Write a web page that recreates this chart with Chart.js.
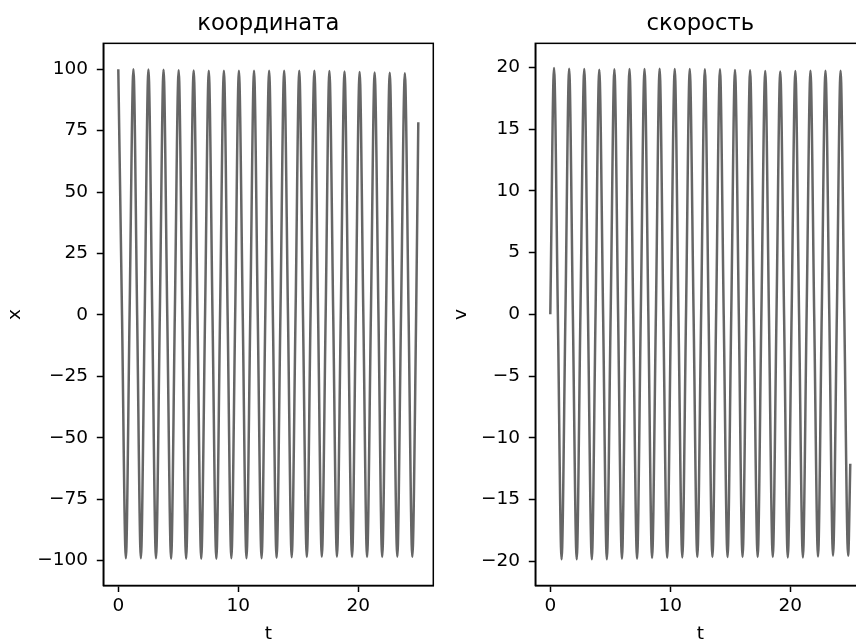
<!DOCTYPE html>
<html>
<head>
<meta charset="utf-8">
<script src="https://cdn.jsdelivr.net/npm/chart.js@4.4.1/dist/chart.umd.min.js"></script>
<style>
  html, body { margin: 0; padding: 0; background: #fff; overflow: hidden; width: 856px; height: 642px; }
  canvas { position: absolute; top: 0; }
  #posChart { left: 0; }
  #velChart { left: 432.4px; }
</style>
</head>
<body>
<canvas id="posChart" width="440" height="642"></canvas>
<canvas id="velChart" width="440" height="642"></canvas>
<script>
// time samples: quarter periods (extrema and zero crossings) + last point
const tValues = [0, 0.31, 0.63, 0.94, 1.26, 1.57, 1.88, 2.2, 2.51, 2.83,
  3.14, 3.46, 3.77, 4.08, 4.4, 4.71, 5.03, 5.34, 5.65, 5.97,
  6.28, 6.6, 6.91, 7.23, 7.54, 7.85, 8.17, 8.48, 8.8, 9.11,
  9.42, 9.74, 10.05, 10.37, 10.68, 11.0, 11.31, 11.62, 11.94, 12.25,
  12.57, 12.88, 13.19, 13.51, 13.82, 14.14, 14.45, 14.77, 15.08, 15.39,
  15.71, 16.02, 16.34, 16.65, 16.96, 17.28, 17.59, 17.91, 18.22, 18.54,
  18.85, 19.16, 19.48, 19.79, 20.11, 20.42, 20.73, 21.05, 21.36, 21.68,
  21.99, 22.31, 22.62, 22.93, 23.25, 23.56, 23.88, 24.19, 24.5, 24.82, 25];

// координата x
const xValues = [100, 0, -99.0, 0, 100, 0, -99.0, 0, 99.9, 0,
  -99.0, 0, 99.8, 0, -99.2, 0, 99.6, 0, -99.2, 0,
  99.4, 0, -99.2, 0, 99.3, 0, -99.2, 0, 99.3, 0,
  -99.0, 0, 99.3, 0, -99.0, 0, 99.3, 0, -99.0, 0,
  99.3, 0, -98.8, 0, 99.3, 0, -98.6, 0, 99.3, 0,
  -98.5, 0, 99.3, 0, -98.4, 0, 99.2, 0, -98.4, 0,
  99.0, 0, -98.5, 0, 98.8, 0, -98.5, 0, 98.6, 0,
  -98.5, 0, 98.5, 0, -98.4, 0, 98.3, 0, -98.4, 0, 78.4];

// скорость v
const vValues = [0, 19.95, 0, -19.85, 0, 19.9, 0, -19.85, 0, 19.87,
  0, -19.85, 0, 19.82, 0, -19.85, 0, 19.85, 0, -19.8,
  0, 19.87, 0, -19.8, 0, 19.87, 0, -19.75, 0, 19.9,
  0, -19.72, 0, 19.87, 0, -19.7, 0, 19.87, 0, -19.66,
  0, 19.85, 0, -19.66, 0, 19.85, 0, -19.66, 0, 19.8,
  0, -19.66, 0, 19.76, 0, -19.66, 0, 19.7, 0, -19.66,
  0, 19.66, 0, -19.7, 0, 19.7, 0, -19.7, 0, 19.73,
  0, -19.63, 0, 19.73, 0, -19.55, 0, 19.73, 0, -19.55, -12.1];

const xTicks = [0, 10, 20];

Chart.defaults.font.family = "'DejaVu Sans', sans-serif";
Chart.defaults.color = '#000';

// matplotlib-style closed frame around the plot area
const framePlugin = {
  id: 'frame',
  afterDraw(chart) {
    const { ctx, chartArea: a } = chart;
    ctx.save();
    ctx.strokeStyle = '#000';
    ctx.lineWidth = 1.5;
    ctx.strokeRect(a.left, a.top, a.right - a.left, a.bottom - a.top);
    ctx.restore();
  }
};

const minus = v => String(v).replace('-', '\u2212');

function makeChart(id, title, yLabel, yValues, yMin, yMax, yStep, yTitlePad) {
  const points = tValues.map((t, i) => ({ x: t, y: yValues[i] }));
  return new Chart(document.getElementById(id), {
    type: 'line',
    data: {
      datasets: [{
        data: points,
        borderColor: '#666666',
        borderWidth: 2.5,
        pointRadius: 0,
        cubicInterpolationMode: 'monotone',
        fill: false
      }]
    },
    options: {
      responsive: false,
      animation: false,
      layout: { padding: { left: 0, right: 6.7, top: 0, bottom: 0 } },
      plugins: {
        legend: { display: false },
        tooltip: { enabled: false },
        title: {
          display: true,
          fullSize: false,
          text: title,
          color: '#000',
          font: { size: 22.7, weight: 'normal', lineHeight: 1.2 },
          padding: { top: 10, bottom: 6.1 }
        }
      },
      scales: {
        x: {
          type: 'linear',
          min: -1.25,
          max: 26.25,
          afterFit: s => { s.height = 56.5; },
          afterBuildTicks: s => { s.ticks = xTicks.map(v => ({ value: v })); },
          border: { display: true, color: '#000', width: 1.5 },
          grid: { display: true, drawOnChartArea: false, drawTicks: true, tickLength: 6.5, tickWidth: 1.5, tickColor: '#000' },
          ticks: { font: { size: 18.5 }, padding: 3.5, maxRotation: 0, callback: v => minus(v) },
          title: { display: true, text: 't', font: { size: 18.5, lineHeight: 0.8 }, padding: 0 }
        },
        y: {
          min: yMin,
          max: yMax,
          afterFit: s => { s.width = 103.3; },
          border: { display: true, color: '#000', width: 1.5 },
          grid: { display: true, drawOnChartArea: false, drawTicks: true, tickLength: 6.5, tickWidth: 1.5, tickColor: '#000' },
          ticks: { stepSize: yStep, includeBounds: false, font: { size: 18.5 }, padding: 8.7, callback: v => minus(v) },
          title: { display: true, text: yLabel, font: { size: 18.5, lineHeight: 0.8 }, padding: { top: yTitlePad, bottom: 0 } }
        }
      }
    },
    plugins: [framePlugin]
  });
}

makeChart('posChart', 'координата', 'x', xValues, -110.1, 110.5, 25, 7.9);
makeChart('velChart', 'скорость', 'v', vValues, -21.97, 21.95, 5, 22.1);
</script>
</body>
</html>
